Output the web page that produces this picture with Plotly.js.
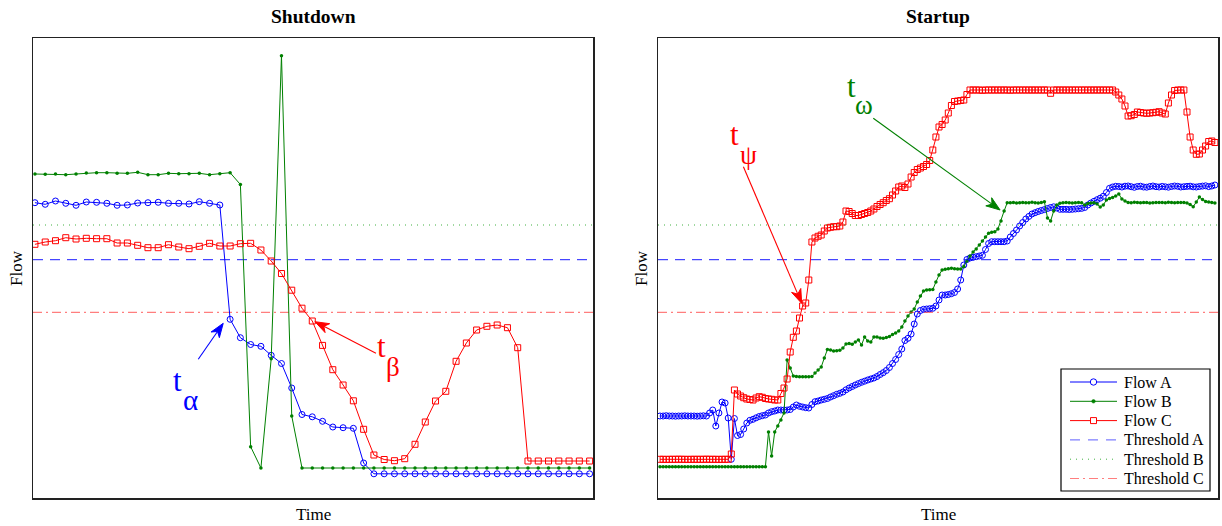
<!DOCTYPE html>
<html>
<head>
<meta charset="utf-8">
<script src="https://cdn.plot.ly/plotly-3.0.1.min.js"></script>
<style>html,body{margin:0;padding:0;background:#fff}#chart{width:1222px;height:526px}</style>
</head>
<body>
<div id="chart"></div>
<script>
// ---------- Shutdown (left) ----------
const leftFlowA = [295.3,293.7,297,294.7,292.7,296,295.7,294.7,292.7,293,295,295.3,295.7,294.7,294.7,294,296.3,294.7,293,
  178.7,160.3,153.5,151.7,142.7,134.5,110,83.5,81.2,76.7,71,70.3,69.7,35,
  24.2,24.2,24.2,24.2,24.2,24.2,24.2,24.2,24.2,24.2,24.2,24.2,24.2,24.2,24.2,24.2,24.2,24.2,24.2,24.2,24.2,24.2];
const leftFlowB = [324,323.7,324,323.3,324,325,325.3,325.3,324.7,324.7,325.7,323.3,323.3,324.7,324.3,324.3,324.7,323.3,324.3,325.3,
  313.5,51.3,30,139.3,442.3,82,
  30,30,30,30,30,30,30,30,30,30,30,30,30,30,30,30,30,30,30,30,30,30,30,30,30,30,30,30,30];
const leftFlowC = [253.7,256,257.3,260.3,259,259.7,259.3,259.3,255,255,252.7,250.3,250.3,253.3,251,249.3,251.7,254.7,252,252,
  254.3,254.7,248,237,224.5,207.8,189.8,177,152.6,128.3,113,97.2,68.7,43,38.5,37.3,39.3,53.7,76,97,106.7,136.7,155,168,171.7,173,170.3,150.3,
  37,37,37,37,37,37,37];

// ---------- Startup (right) ----------
const rightFlowA = [82,82,82.3,82,82,81.8,82,82,82.2,82,82,82,81.8,82,82.2,82,
  85,88,72,85,96,95,80,38.7,79.5,62.5,63.5,69,75,77.7,78.7,80.2,81.5,82.3,83,85,86.3,87,88,88,88,88,88.5,91,93,91.7,91,90.3,90,
  93.5,96.3,97,98,98.7,99.5,101,102.3,103.7,104.7,106,108.2,110,111.5,113,114.4,115.7,116.8,118,119,120,121.5,123.5,125.3,127.5,
  130.5,134.5,138.5,143.5,149,157.5,159.7,164,174,184,187.5,188.7,189,189.3,189.7,192,198,203,203,203.5,204.3,205.5,209,218,233,
  238.5,240,240.7,241.3,242,242.7,248.5,254.5,256.3,256.3,256.3,256.3,256.3,257,261,264.5,268,272,275.5,279,281.6,284,285.3,286.5,
  287.5,288.4,289.5,290.5,291.2,290,288.7,288.7,288.7,288.5,288.7,289,289.3,289.6,290.5,293,295,296.7,298.3,299.8,301.7,305.5,309.7,311,311.7,
  311.5,311,311.8,312,311.3,310.7,311.5,311.8,311,310.8,311.5,312,311.3,311,311.6,311.2,310.8,311.5,312,311.7,311,311.3,311.6,311.8,311.2,311,311.5,311.9,312.2,311.4,312,313];
const rightFlowB = [31.3,31.3,31.3,31.3,31.3,31.3,31.3,31.3,31.3,31.3,31.3,31.3,31.3,31.3,31.3,31.3,31.3,31.3,31.3,31.3,31.3,31.3,31.3,31.3,31.3,31.3,31.3,31.3,31.3,31.3,31.3,31.3,31.3,31.3,31.3,
  66,42,66,72,78,85,138,130,122,121.5,121.3,121.3,121.3,121.3,121.5,125,128,131,140,148.5,148,147,147.3,147.7,150,154,154.5,153.7,156,158,
  153,161,157,156,161,161,160,159.7,160.5,161.5,163.5,165,167,171,177,182,186,189,196,202,207,208,208.3,208.5,216,223,228,228.7,229.3,
  229.7,229.3,229,229,231.5,237,242,246,249,253,257,261,264.7,265.7,266.2,269,277,287,295.3,
  295.3,295.6,295,295.3,295.5,295.2,295.3,295.8,295.3,295,295.4,296.3,
  280,277,287,293,294.7,
  295.3,295.5,295.3,295,295.3,295.6,295.2,
  293,294.5,295,295.3,294,291,293,298,299.5,300.5,302,304,299,297,
  295.5,295.3,295.8,295.4,295.2,295.6,295.5,295,295.3,295.6,295.4,295.5,295.2,295.7,295.5,295.3,295.4,295.6,295.5,
  295,293.5,291.3,296,301,298.5,296.5,296,295.5,295];
const rightFlowC = [38.7,38.7,38.6,38.7,38.7,38.7,38.8,38.7,38.7,38.6,38.7,38.7,38.7,38.7,38.7,38.8,38.7,38.7,38.7,38.6,38.7,38.7,38.7,
  44,
  108,104,102,100.3,99,98.5,98,100,101.3,100.7,99.5,99,98.7,98,98,104.5,110,119,146,160.7,167,180,192,195,218,256,260,261.7,263,267,
  270,270.7,271.3,271.3,272,276,287,286.5,284.5,282.5,282.5,283.5,284.5,285.5,287,289,291.5,293.5,295.3,297.5,299.3,303,307,311,312,
  310.5,314,321,325.5,328.5,330,331.5,333.5,337.5,348,361,371,373.5,378,385,392.5,396.5,397,397.5,398,403.5,408,
  408,408,408,407.7,408,408,408,408,408,408,408,408,407.8,408,408,408,408,408,408,408,408,408,408,408,408,
  404.7,
  408,408,408,408,408,408,408,408,408,408,408,408,408,408,408,408,408,408,408,
  408,406,403,399,392,382,382.3,383.5,386,385.5,385,384.7,385,385.3,385.7,386.3,385,384,395,403,407.5,408,408,408,
  386,361,348,343.7,344,348,352,356.5,357,355.5];

// thresholds (same levels in both panels)
const thresholdA = 238.3;
const thresholdB = 273;
const thresholdC = 185.7;

const seriesNames = ['Flow A','Flow B','Flow C','Threshold A','Threshold B','Threshold C'];

const leftTime = leftFlowA.map((_, i) => i);
const rightTime = rightFlowA.map((_, i) => i);
const leftRange = [-0.19, 54.33];
const rightRange = [-0.65, 180];
const yRange = [0, 460];

const BLUE = '#0000ff', GREEN = '#008000', RED = '#ff0000';
const thrStyles = [
  {color: 'rgba(0,0,255,0.9)', dash: '10px,7px', width: 1},
  {color: 'rgba(0,150,0,0.75)', dash: '1px,5px', width: 1},
  {color: 'rgba(255,40,40,0.6)', dash: '9px,4px,2px,4px', width: 1.2}
];
const flowStyles = [
  {line: {color: BLUE, width: 1}, marker: {symbol: 'circle-open', size: 6, color: BLUE, line: {width: 1}}},
  {line: {color: GREEN, width: 1}, marker: {symbol: 'circle', size: 3.5, color: GREEN}},
  {line: {color: RED, width: 1}, marker: {symbol: 'square-open', size: 6, color: RED, line: {width: 1}}}
];

function flowTraces(t, series, xa, ya) {
  return series.map((s, k) => Object.assign({x: t, y: s, xaxis: xa, yaxis: ya, name: seriesNames[k],
    showlegend: false, mode: 'lines+markers'}, flowStyles[k]));
}
function thrTraces(range, xa, ya) {
  return [thresholdA, thresholdB, thresholdC].map((v, k) => ({
    x: range, y: [v, v], xaxis: xa, yaxis: ya, name: seriesNames[3 + k], showlegend: false,
    mode: 'lines', line: thrStyles[k], hoverinfo: 'skip'
  }));
}

const data = [].concat(
  thrTraces(leftRange, 'x', 'y'),
  flowTraces(leftTime, [leftFlowA, leftFlowB, leftFlowC], 'x', 'y'),
  flowTraces(rightTime, [rightFlowA, rightFlowB, rightFlowC], 'x2', 'y2'),
  thrTraces(rightRange, 'x2', 'y2')
);

const FONT = 'Liberation Serif, Times New Roman, serif';
const axisCommon = {showline: true, mirror: true, linecolor: '#222', linewidth: 1.5,
  showgrid: false, zeroline: false, ticks: '', showticklabels: false, fixedrange: true};

// --- geometry helpers (page pixels -> paper) ---
const M = {l: 33, r: 4, t: 38, b: 28};
const PW = 1222 - M.l - M.r, PH = 526 - M.t - M.b;
const px2paperX = p => (p - M.l) / PW;
const py2paperY = p => (526 - M.b - p) / PH;
const leftDomain = [0, px2paperX(593)];
const rightDomain = [px2paperX(658), 1];
const kxL = (leftDomain[1] - leftDomain[0]) * PW / (leftRange[1] - leftRange[0]);
const kxR = (rightDomain[1] - rightDomain[0]) * PW / (rightRange[1] - rightRange[0]);
const ky = PH / (yRange[1] - yRange[0]);

const lbl = (text, x, y, size, extra) => Object.assign({text, x, y, xref: 'paper', yref: 'paper',
  showarrow: false, font: {family: FONT, size, color: '#000'}, xanchor: 'center', yanchor: 'middle'}, extra || {});
const glyph = (text, x, y, xr, yr, color, size) => ({text, x, y, xref: xr, yref: yr, showarrow: false,
  font: {family: FONT, size, color}, xanchor: 'center', yanchor: 'middle'});

function arrowShapes(head, tail, xr, yr, kx, color) {
  const dx = (head[0] - tail[0]) * kx, dy = (head[1] - tail[1]) * ky;
  const len = Math.hypot(dx, dy), ux = dx / len, uy = dy / len, nx = -uy, ny = ux;
  const L = 14, W = 5, B = 10;
  const P = (a, b) => [head[0] + (a * ux + b * nx) / kx, head[1] + (a * uy + b * ny) / ky];
  const tip = P(0, 0), lft = P(-L, W), rgt = P(-L, -W), ind = P(-B, 0);
  return [
    {type: 'line', xref: xr, yref: yr, x0: tail[0], y0: tail[1], x1: ind[0], y1: ind[1], line: {color, width: 1.1}},
    {type: 'path', xref: xr, yref: yr, path: `M${tip}L${lft}L${ind}L${rgt}Z`, fillcolor: color, line: {color, width: 1}}
  ];
}

// --- hand-drawn legend (to match the reference box) ---
const legendShapes = [], legendAnn = [];
const LBX0 = 1061, LBX1 = 1210, LBY0 = 369, LBY1 = 491;
legendShapes.push({type: 'rect', xref: 'paper', yref: 'paper', x0: px2paperX(LBX0), x1: px2paperX(LBX1),
  y0: py2paperY(LBY1), y1: py2paperY(LBY0), fillcolor: '#fff', line: {color: '#000', width: 1.2}});
const legStyles = [
  {line: {color: BLUE, width: 1}},
  {line: {color: GREEN, width: 1}},
  {line: {color: RED, width: 1}},
  {line: {color: 'rgba(40,40,255,0.75)', width: 1, dash: '10px,8px'}},
  {line: {color: 'rgba(0,150,0,0.75)', width: 1, dash: '1px,5px'}},
  {line: {color: 'rgba(255,40,40,0.6)', width: 1.2, dash: '9px,4px,2px,4px'}}
];
seriesNames.forEach((name, k) => {
  const py = 382 + 19.3 * k, yy = py2paperY(py);
  legendShapes.push(Object.assign({type: 'line', xref: 'paper', yref: 'paper',
    x0: px2paperX(1070), x1: px2paperX(1117), y0: yy, y1: yy}, legStyles[k]));
  const mx = px2paperX(1093.5);
  if (k === 0) legendShapes.push({type: 'circle', xref: 'paper', yref: 'paper', xsizemode: 'pixel', ysizemode: 'pixel',
    xanchor: mx, yanchor: yy, x0: -3.2, x1: 3.2, y0: -3.2, y1: 3.2, fillcolor: '#fff', line: {color: BLUE, width: 1}});
  if (k === 1) legendShapes.push({type: 'circle', xref: 'paper', yref: 'paper', xsizemode: 'pixel', ysizemode: 'pixel',
    xanchor: mx, yanchor: yy, x0: -1.8, x1: 1.8, y0: -1.8, y1: 1.8, fillcolor: GREEN, line: {color: GREEN, width: 0.5}});
  if (k === 2) legendShapes.push({type: 'rect', xref: 'paper', yref: 'paper', xsizemode: 'pixel', ysizemode: 'pixel',
    xanchor: mx, yanchor: yy, x0: -3, x1: 3, y0: -3, y1: 3, fillcolor: '#fff', line: {color: RED, width: 1}});
  legendAnn.push({text: name, x: px2paperX(1122), y: yy, xref: 'paper', yref: 'paper', showarrow: false,
    xanchor: 'left', yanchor: 'middle', font: {family: FONT, size: 16, color: '#000'}});
});

const layout = {
  width: 1222, height: 526,
  margin: M,
  paper_bgcolor: '#fff', plot_bgcolor: '#fff',
  font: {family: FONT, size: 14, color: '#000'},
  xaxis: Object.assign({domain: leftDomain, range: leftRange}, axisCommon),
  yaxis: Object.assign({domain: [0, 1], range: yRange}, axisCommon),
  xaxis2: Object.assign({domain: rightDomain, range: rightRange, anchor: 'y2'}, axisCommon),
  yaxis2: Object.assign({domain: [0, 1], range: yRange, anchor: 'x2'}, axisCommon),
  showlegend: false,
  shapes: [].concat(
    arrowShapes([18.33, 174.7], [15.9, 138.7], 'x', 'y', kxL, BLUE),
    arrowShapes([27.26, 176.3], [33.2, 144.7], 'x', 'y', kxL, RED),
    arrowShapes([45.7, 194.7], [26.9, 331.3], 'x2', 'y2', kxR, RED),
    arrowShapes([109.7, 288], [68.8, 379.7], 'x2', 'y2', kxR, GREEN),
    legendShapes
  ),
  annotations: [
    lbl('<b>Shutdown</b>', px2paperX(313), py2paperY(17), 19.5),
    lbl('<b>Startup</b>', px2paperX(938), py2paperY(17), 19.5),
    lbl('Time', px2paperX(313), py2paperY(514), 17),
    lbl('Time', px2paperX(938), py2paperY(514), 17),
    lbl('Flow', px2paperX(16), 0.5, 17, {textangle: -90}),
    lbl('Flow', px2paperX(641), 0.5, 17, {textangle: -90}),
    glyph('t', 13.92, 118, 'x', 'y', BLUE, 31),
    glyph('α', 15.19, 98.5, 'x', 'y', BLUE, 29),
    glyph('t', 33.69, 151.5, 'x', 'y', RED, 31),
    glyph('β', 34.81, 131, 'x', 'y', RED, 27),
    glyph('t', 23.87, 364, 'x2', 'y2', RED, 31),
    glyph('ψ', 28.55, 343, 'x2', 'y2', RED, 27),
    glyph('t', 61.61, 412, 'x2', 'y2', GREEN, 31),
    glyph('ω', 65.81, 393, 'x2', 'y2', GREEN, 27)
  ].concat(legendAnn)
};

Plotly.newPlot('chart', data, layout, {displayModeBar: false, staticPlot: true});
</script>
</body>
</html>
